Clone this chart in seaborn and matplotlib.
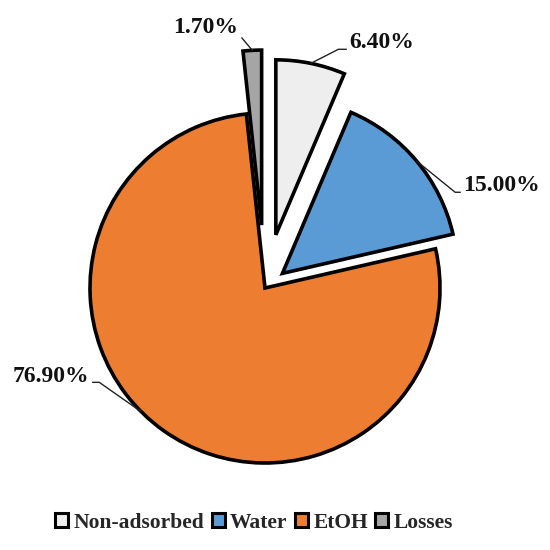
import matplotlib
matplotlib.use("Agg")
import matplotlib.pyplot as plt
from matplotlib.patches import Patch
import numpy as np
import seaborn as sns

# ---- data ----
categories = ["Non-adsorbed", "Water", "EtOH", "Losses"]
values = [6.40, 15.00, 76.90, 1.70]
labels = ["6.40%", "15.00%", "76.90%", "1.70%"]

# ---- style ----
sns.set_theme(style="white")
plt.rcParams["font.family"] = ["Liberation Serif", "DejaVu Serif"]
colors = sns.color_palette(["#EEEEEE", "#5B9BD5", "#ED7D31", "#A5A5A5"])
explode = [0.31, 0.13, 0.0, 0.36]

fig = plt.figure(figsize=(5.5, 5.5), dpi=100)
ax = fig.add_axes([0, 0, 1, 1])
ax.set_axis_off()

R = 175.0  # pixels per unit
cx, cy = 265.0, 288.0

wedges, _ = ax.pie(values, explode=explode, colors=colors, startangle=90,
                   counterclock=False, radius=1.0,
                   wedgeprops=dict(edgecolor="black", linewidth=2.6,
                                   joinstyle="miter"))
ax.set_xlim(-cx / R, (550 - cx) / R)
ax.set_ylim(-(550 - cy) / R, cy / R)
ax.set_aspect("auto")

# label layout: text centre (data units), anchor angle, leader angle, attach point
text_pos = [(0.669, 1.40), (1.354, 0.583), (-1.223, -0.503), (-0.337, 1.491)]
anchor_ang = [None, None, 225.0, None]
leader_ang = [27, -39, 145, 130]
rel_pos = [(0.0, 0.2), (0.0, 0.2), (1.0, 0.2), (1.0, 0.2)]

for w, lab, tp, aa, la, rp in zip(wedges, labels, text_pos, anchor_ang,
                                  leader_ang, rel_pos):
    ang = aa if aa is not None else (w.theta1 + w.theta2) / 2.0
    x0, y0 = w.center
    r = w.r
    xy = (x0 + r * np.cos(np.deg2rad(ang)), y0 + r * np.sin(np.deg2rad(ang)))
    ax.annotate(lab, xy=xy, xytext=tp, ha="center", va="center",
                fontsize=17, fontweight="bold", color="#111111",
                arrowprops=dict(arrowstyle="-", color="#222222", lw=1.0,
                                shrinkA=0, shrinkB=0, relpos=rp,
                                connectionstyle=f"angle,angleA=0,angleB={la},rad=0"))

handles = [Patch(facecolor=c, edgecolor="black", linewidth=2.2) for c in colors]
fig.legend(handles, categories, loc="center", bbox_to_anchor=(0.462, 0.05),
           ncol=4, frameon=False,
           prop=dict(weight="bold", size=15.5),
           handlelength=0.6, handleheight=0.6, handletextpad=0.25,
           columnspacing=0.35, borderaxespad=0)

fig.savefig("out.png", dpi=100)
